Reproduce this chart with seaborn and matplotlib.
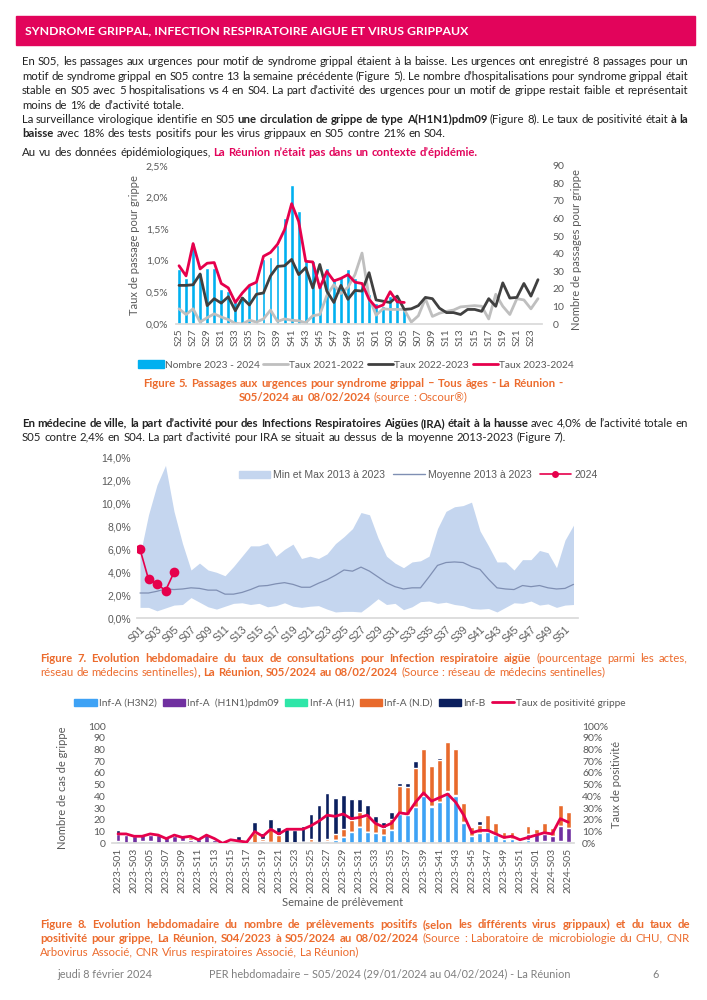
import numpy as np
import matplotlib
matplotlib.use("Agg")
import matplotlib.pyplot as plt
import seaborn as sns
from matplotlib.patches import Patch, Rectangle
from matplotlib.lines import Line2D

# --- Figure 5 : passages aux urgences (S25/2023 -> S24/2024) ---
semaines_f5 = ["S%02d" % w for w in list(range(25, 53)) + list(range(1, 25))]
nombre_2324 = [31, 26, 46, 29, 32, 32, 20, 19, 13, 16, 22, 24, 37, 38, 45, 60, 79,
               64, 36, 36, 22, 32, 26, 27, 31, 26, 22, 17, 12, 10, 16, 13, 8]
taux_2122 = [0.24, 0.15, 0.24, 0.03, 0.10, 0.16, 0.11, 0.07, 0.01, 0.0, 0.06, 0.03,
             0.08, 0.22, 0.04, 0.08, 0.06, 0.05, 0.02, 0.13, 0.15,
             0.45, 0.62, 0.48, 0.58, 0.78, 1.12, 0.42,
             0.14, 0.24, 0.23, 0.23, 0.23, 0.03, 0.13, 0.40, 0.12, 0.17, 0.20, 0.22,
             0.27, 0.28, 0.29, 0.28, 0.08, 0.47, 0.28, 0.15, 0.40, 0.38, 0.24, 0.40]
taux_2223 = [0.61, 0.61, 0.62, 0.79, 0.29, 0.40, 0.33, 0.43, 0.21, 0.41, 0.30, 0.47,
             0.49, 0.76, 0.91, 0.92, 1.02, 0.78, 0.89, 0.57, 0.94, 0.52, 0.34, 0.61,
             0.39, 0.53, 0.52, 0.81,
             0.38, 0.36, 0.34, 0.44, 0.23, 0.24, 0.29, 0.42, 0.40, 0.25, 0.18, 0.18,
             0.15, 0.23, 0.23, 0.20, 0.40, 0.28, 0.65, 0.41, 0.42, 0.64, 0.44, 0.70]
taux_2324 = [0.92, 0.76, 1.27, 0.87, 0.96, 0.97, 0.64, 0.57, 0.34, 0.49, 0.61, 0.66,
             1.07, 1.13, 1.26, 1.49, 1.90, 1.62, 0.99, 0.98, 0.57, 0.83, 0.68, 0.72,
             0.78, 0.66, 0.64, 0.39, 0.26, 0.30, 0.51, 0.35, 0.34]
ticks_f5 = ["0,0%", "0,5%", "1,0%", "1,5%", "2,0%", "2,5%"]

# --- Figure 7 : IRA medecins sentinelles ---
semaines_f7 = ["S%02d" % w for w in range(1, 53)]
ira_max = [5.5, 9.0, 11.6, 13.3, 9.3, 6.5, 4.2, 4.8, 4.2, 4.0, 3.7, 4.5, 5.4, 6.3,
           6.3, 6.55, 5.4, 6.0, 6.45, 5.2, 5.4, 5.2, 5.6, 6.5, 7.1, 7.8, 9.2, 9.0,
           7.0, 5.4, 4.8, 4.4, 4.9, 5.0, 5.4, 7.8, 9.3, 9.7, 9.8, 10.1, 7.6, 6.3,
           4.9, 4.9, 4.2, 5.1, 5.1, 5.9, 5.7, 4.4, 6.8, 8.1]
ira_min = [0.95, 0.95, 0.65, 0.9, 1.15, 1.2, 1.8, 1.4, 1.0, 0.8, 1.05, 1.3, 1.35,
           1.2, 1.3, 1.0, 1.1, 1.35, 1.05, 0.95, 1.05, 1.1, 0.8, 0.55, 0.6, 0.6,
           0.55, 1.1, 1.7, 1.2, 1.3, 0.75, 1.0, 1.45, 1.5, 1.3, 1.4, 1.2, 1.1, 0.85,
           0.8, 0.85, 0.55, 0.95, 1.35, 1.3, 1.5, 1.15, 1.25, 0.95, 1.15, 1.2]
ira_moyenne = [2.2, 2.2, 2.35, 2.55, 2.5, 2.55, 2.65, 2.6, 2.45, 2.45, 2.1, 2.1,
               2.25, 2.5, 2.8, 2.85, 3.0, 3.1, 2.95, 2.7, 2.7, 3.05, 3.35, 3.75,
               4.2, 4.1, 4.45, 4.1, 3.6, 3.1, 2.75, 2.55, 2.65, 2.65, 3.6, 4.6,
               4.85, 4.9, 4.85, 4.5, 4.25, 3.4, 2.65, 2.55, 2.5, 2.85, 2.75, 2.85,
               2.65, 2.55, 2.6, 2.95]
ira_2024 = [6.0, 3.4, 3.0, 2.4, 4.0]
ticks_f7 = ["0,0%", "2,0%", "4,0%", "6,0%", "8,0%", "10,0%", "12,0%", "14,0%"]

# --- Figure 8 : prelevements positifs grippe ---
semaines_f8 = (["2023-S%02d" % w for w in range(1, 53)]
               + ["2024-S%02d" % w for w in range(1, 6)])
inf_h3n2 = [2, 0, 0, 2, 2, 0, 0, 1, 2, 1, 0, 0, 0, 0, 1, 0, 0, 0, 0, 0, 0, 0, 0, 1,
            1, 0, 2, 3, 5, 10, 14, 10, 9, 7, 11, 25, 24, 31, 40, 31, 35, 44, 40, 17,
            6, 9, 10, 7, 4, 4, 2, 3, 1, 2, 1, 2, 1]
inf_h1n1 = [6, 7, 6, 6, 5, 7, 5, 5, 4, 2, 4, 7, 3, 0, 0, 0, 0, 0, 2, 1, 0, 0, 0, 0,
            0, 0, 0, 0, 0, 0, 0, 0, 0, 0, 0, 0, 0, 0, 0, 1, 0, 0, 0, 1,
            0, 0, 0, 0, 0, 0, 1, 5, 7, 6, 5, 13, 12]
inf_h1 = [0] * 41 + [1, 1] + [0] * 14
inf_nd = [0, 1, 0, 0, 1, 1, 0, 1, 0, 2, 1, 0, 0, 0, 0, 2, 1, 9, 2, 11, 7, 0, 0, 0,
          3, 1, 2, 5, 7, 10, 13, 13, 8, 6, 10, 24, 24, 33, 40, 34, 36, 41, 39, 16,
          8, 7, 14, 10, 6, 6, 0, 7, 4, 9, 7, 18, 14]
inf_b = [3, 0, 0, 0, 0, 0, 0, 1, 0, 2, 0, 0, 0, 0, 0, 4, 2, 9, 5, 9, 7, 12, 11, 14,
         21, 32, 39, 31, 29, 18, 11, 10, 6, 5, 6, 2, 3, 6, 0, 1, 2, 0, 0, 0,
         0, 3, 0, 0, 0, 0, 0, 0, 0, 0, 0, 0, 0]
taux_positivite = [8, 8, 6, 6, 8, 7, 4, 7, 5, 6, 3, 7, 4, 0, 3, 2, 1, 10, 6, 12,
                   8, 12, 12, 12, 15, 19, 24, 23, 25, 21, 22, 24, 17, 14, 17, 26,
                   25, 35, 43, 36, 39, 42, 35, 24, 9, 11, 11, 8, 5, 6, 3, 5, 7, 9,
                   8, 21, 18]
noms_f8 = ["Inf-A (H3N2)", "Inf-A  (H1N1)pdm09", "Inf-A (H1)", "Inf-A (N.D)", "Inf-B"]

# colours
ROSE = "#E2045B"
ORANGE = "#EC6B2D"
TXT = "#222222"
GRIS = "#595959"
ROUGE = "#E6004C"
couleurs_f8 = ["#3EA2F5", "#7030A0", "#2EE6A8", "#E86A2C", "#0B1F5E"]

sns.set_theme(style="white")
plt.rcParams["font.family"] = ["Lato", "DejaVu Sans"]

W, H = 707, 1000
fig = plt.figure(figsize=(W / 100, H / 100), dpi=100)
rend = fig.canvas.get_renderer()


def fx(px):
    return px / W


def fy(py):
    return 1 - py / H


def axes_px(l, t, r, b):
    return fig.add_axes([l / W, 1 - b / H, (r - l) / W, (b - t) / H])


def ligne(y, runs, x0=0, x1=None, taille=8.2, centre=None):
    # runs: (texte, gras, couleur); words are spread to fill x0..x1 when x1 is given
    mots = [[]]
    for txt, gras, coul in runs:
        for k, part in enumerate(txt.split(" ")):
            if k:
                mots.append([])
            if part:
                mots[-1].append((part, gras, coul))
    mots = [m for m in mots if m]
    base = fy(y + 0.33 * taille * 100 / 72)
    objs = [[fig.text(0, base, p, fontsize=taille, color=c, ha="left", va="baseline",
                      fontweight="bold" if g else "normal") for p, g, c in m]
            for m in mots]

    def mesurer():
        return [[t.get_window_extent(rend).width for t in m] for m in objs]

    larg = mesurer()
    total = sum(sum(l) for l in larg)
    n = len(objs)
    if x1 is not None and total + 2.2 * (n - 1) > x1 - x0:
        f = (x1 - x0 - 2.2 * (n - 1)) / total
        for m in objs:
            for t in m:
                t.set_fontsize(taille * f)
        larg = mesurer()
        total = sum(sum(l) for l in larg)
    gap = (x1 - x0 - total) / (n - 1) if (x1 is not None and n > 1) else taille * 100 / 72 * 0.26
    if centre is not None:
        x0 = centre - (total + gap * (n - 1)) / 2
    x = x0
    for m, l in zip(objs, larg):
        for t, w in zip(m, l):
            t.set_x(fx(x))
            x += w
        x += gap


def habiller(ax):
    for s in ax.spines.values():
        s.set_visible(False)
    ax.set_xlabel("")
    ax.set_ylabel("")


# --- header and text ---
fig.add_artist(Rectangle((fx(16), fy(45)), (695 - 16) / W, 29 / H,
                         transform=fig.transFigure, color=ROSE, zorder=0))
fig.text(fx(25), fy(31), "SYNDROME GRIPPAL, INFECTION RESPIRATOIRE AIGUE ET VIRUS GRIPPAUX",
         color="white", fontweight="bold", fontsize=8.8, va="center")

ligne(61, [("En S05, les passages aux urgences pour motif de syndrome grippal étaient à la baisse. "
            "Les urgences ont enregistré 8 passages pour un", False, TXT)], 22, 688)
ligne(76, [("motif de syndrome grippal en S05 contre 13 la semaine précédente (Figure 5). "
            "Le nombre d’hospitalisations pour syndrome grippal était", False, TXT)], 22, 688)
ligne(90, [("stable en S05 avec 5 hospitalisations vs 4 en S04. La part d’activité des urgences "
            "pour un motif de grippe restait faible et représentait", False, TXT)], 22, 688)
ligne(105, [("moins de 1% de d’activité totale.", False, TXT)], 22)
ligne(119, [("La surveillance virologique identifie en S05 ", False, TXT),
            ("une circulation de grippe de type A(H1N1)pdm09", True, TXT),
            (" (Figure 8). Le taux de positivité était ", False, TXT),
            ("à la", True, TXT)], 22, 688)
ligne(133, [("baisse", True, TXT),
            (" avec 18% des tests positifs pour les virus grippaux en S05 contre 21% en S04.", False, TXT)], 22)
ligne(152, [("Au vu des données épidémiologiques, ", False, TXT),
            ("La Réunion n’était pas dans un contexte d’épidémie.", True, ROSE)], 22)

# --- Figure 5 ---
ax5 = axes_px(175.5, 165.7, 541.5, 324)
ax5b = ax5.twinx()
sns.barplot(x=np.arange(len(nombre_2324)), y=nombre_2324, native_scale=True,
            color="#00B0F0", saturation=1, width=0.55, errorbar=None, ax=ax5b)
x5 = np.arange(len(semaines_f5))
sns.lineplot(x=x5, y=taux_2122, color="#BFBFBF", linewidth=2, ax=ax5)
sns.lineplot(x=x5, y=taux_2223, color="#404040", linewidth=2, ax=ax5)
sns.lineplot(x=x5[:len(taux_2324)], y=taux_2324, color=ROUGE, linewidth=2, ax=ax5)
ax5.set_zorder(ax5b.get_zorder() + 1)
ax5.patch.set_visible(False)
ax5.set_xlim(-0.5, 51.5)
ax5.set_ylim(0, 2.5)
ax5b.set_ylim(0, 90)
habiller(ax5)
habiller(ax5b)
ax5.spines["bottom"].set_visible(True)
ax5.spines["bottom"].set_color("#D9D9D9")
ax5.set_yticks([0, 0.5, 1, 1.5, 2, 2.5], ticks_f5)
ax5b.set_yticks(range(0, 91, 10))
ax5.set_xticks(x5[::2], semaines_f5[::2], rotation=90)
ax5.tick_params(axis="both", length=0, labelsize=7.5, labelcolor=GRIS)
ax5.tick_params(axis="y", pad=5)
ax5.tick_params(axis="x", pad=3)
ax5b.tick_params(axis="y", length=0, labelsize=7.5, labelcolor=GRIS, pad=8)
fig.text(fx(135), fy(245), "Taux de passage pour grippe", rotation=90,
         ha="center", va="center", fontsize=8, color=GRIS)
fig.text(fx(577), fy(250), "Nombre de passages pour grippe", rotation=90,
         ha="center", va="center", fontsize=8, color=GRIS)
h5 = [Patch(color="#00B0F0"), Line2D([], [], color="#BFBFBF", lw=2),
      Line2D([], [], color="#404040", lw=2), Line2D([], [], color=ROUGE, lw=2)]
fig.legend(h5, ["Nombre 2023 - 2024", "Taux 2021-2022", "Taux 2022-2023", "Taux 2023-2024"],
           loc="center", bbox_to_anchor=(fx(356), fy(365)), ncol=4, frameon=False,
           fontsize=7.3, labelcolor=GRIS, handlelength=2.5, handletextpad=0.1,
           columnspacing=0.35)
ligne(383, [("Figure 5. Passages aux urgences pour syndrome grippal – Tous âges - La Réunion -",
             True, ORANGE)], centre=353)
ligne(397, [("S05/2024 au 08/02/2024", True, ORANGE), (" (source : Oscour®)", False, ORANGE)],
      centre=353)

# --- text between ---
ligne(423, [("En médecine de ville, la part d’activité pour des Infections Respiratoires Aigües (IRA) "
             "était à la hausse", True, TXT),
            (" avec 4,0% de l’activité totale en", False, TXT)], 22, 688)
ligne(437, [("S05 contre 2,4% en S04. La part d’activité pour IRA se situait au dessus de la "
             "moyenne 2013-2023 (Figure 7).", False, TXT)], 22)

# --- Figure 7 ---
ax7 = axes_px(136.6, 457.3, 577.75, 618.3)
x7 = np.arange(len(semaines_f7))
ax7.fill_between(x7, ira_min, ira_max, color="#C5D6EF", linewidth=0)
sns.lineplot(x=x7, y=ira_moyenne, color="#7F8FB3", linewidth=0.9, ax=ax7)
sns.lineplot(x=x7[:len(ira_2024)], y=ira_2024, color=ROUGE, linewidth=1.2, marker="o",
             markersize=7, markeredgewidth=0, ax=ax7)
ax7.set_xlim(-0.4, 51.5)
ax7.set_ylim(0, 14)
habiller(ax7)
ax7.spines["bottom"].set_visible(True)
ax7.spines["bottom"].set_color("#D9D9D9")
ax7.set_yticks(range(0, 15, 2), ticks_f7, fontfamily="Liberation Sans")
ax7.set_xticks(x7[::2], semaines_f7[::2], rotation=45, ha="right",
               rotation_mode="anchor", fontfamily="Liberation Sans")
ax7.tick_params(axis="both", length=0, labelsize=7.5, labelcolor=GRIS)
ax7.tick_params(axis="y", pad=4)
ax7.tick_params(axis="x", pad=4)
h7 = [Patch(color="#C5D6EF"), Line2D([], [], color="#7F8FB3", lw=1),
      Line2D([], [], color=ROUGE, lw=1.2, marker="o", markersize=5, markeredgewidth=0)]
fig.legend(h7, ["Min et Max 2013 à 2023", "Moyenne 2013 à 2023", "2024"], loc="center",
           bbox_to_anchor=(fx(418), fy(475)), ncol=3, frameon=False, labelcolor=GRIS,
           prop={"family": "Liberation Sans", "size": 7.5}, handlelength=3,
           handletextpad=0.3, columnspacing=0.8)
ligne(658, [("Figure 7. Evolution hebdomadaire du taux de consultations pour Infection respiratoire aigüe",
             True, ORANGE), (" (pourcentage parmi les actes,", False, ORANGE)], 40, 688)
ligne(672, [("réseau de médecins sentinelles)", False, ORANGE),
            (", La Réunion, S05/2024 au 08/02/2024", True, ORANGE),
            (" (Source : réseau de médecins sentinelles)", False, ORANGE)], 40)

# --- Figure 8 ---
ax8 = axes_px(112.4, 726, 573.9, 843.3)
x8 = np.arange(len(semaines_f8))
cumul = np.cumsum(np.array([inf_h3n2, inf_h1n1, inf_h1, inf_nd, inf_b]), axis=0)
for k in range(4, -1, -1):
    sns.barplot(x=x8, y=cumul[k], native_scale=True, color=couleurs_f8[k], saturation=1,
                width=0.6, errorbar=None, ax=ax8)
ax8b = ax8.twinx()
sns.lineplot(x=x8, y=taux_positivite, color=ROUGE, linewidth=2, ax=ax8b)
ax8.set_xlim(-0.7, 56.7)
ax8.set_ylim(0, 100)
ax8b.set_ylim(0, 100)
habiller(ax8)
habiller(ax8b)
ax8.spines["bottom"].set_visible(True)
ax8.spines["bottom"].set_color("#D9D9D9")
ax8.set_yticks(range(0, 101, 10))
ax8b.set_yticks(range(0, 101, 10), ["%d%%" % v for v in range(0, 101, 10)])
ax8.set_xticks(x8[::2], semaines_f8[::2], rotation=90)
ax8.tick_params(axis="both", length=0, labelsize=7.5, labelcolor=GRIS)
ax8.tick_params(axis="y", pad=5)
ax8.tick_params(axis="x", pad=3)
ax8b.tick_params(axis="y", length=0, labelsize=7.5, labelcolor=GRIS, pad=6)
fig.text(fx(63), fy(788), "Nombre de cas de grippe", rotation=90, ha="center",
         va="center", fontsize=8, color=GRIS)
fig.text(fx(617), fy(785), "Taux de positivité", rotation=90, ha="center",
         va="center", fontsize=8, color=GRIS)
fig.text(fx(343), fy(902), "Semaine de prélèvement", ha="center", va="center",
         fontsize=8, color=GRIS)
h8 = [Patch(color=c) for c in couleurs_f8] + [Line2D([], [], color=ROUGE, lw=2)]
fig.legend(h8, noms_f8 + ["Taux de positivité grippe"], loc="center",
           bbox_to_anchor=(fx(350), fy(703)), ncol=6, frameon=False, fontsize=7.3,
           labelcolor=GRIS, handlelength=2.2, handletextpad=0.2, columnspacing=0.6)
ligne(924, [("Figure 8. Evolution hebdomadaire du nombre de prélèvements positifs (selon les "
             "différents virus grippaux) et du taux de", True, ORANGE)], 40, 690)
ligne(938, [("positivité pour grippe, La Réunion, S04/2023 à S05/2024 au 08/02/2024", True, ORANGE),
            (" (Source : Laboratoire de microbiologie du CHU, CNR", False, ORANGE)], 40, 690)
ligne(952, [("Arbovirus Associé, CNR Virus respiratoires Associé, La Réunion)", False, ORANGE)], 40)

# --- footer ---
fig.text(fx(57), fy(974), "jeudi 8 février 2024", fontsize=7.8, color="#7F7F7F", va="center")
fig.text(fx(390), fy(974), "PER hebdomadaire – S05/2024 (29/01/2024 au 04/02/2024) - La Réunion",
         fontsize=7.8, color="#7F7F7F", va="center", ha="center")
fig.text(fx(652), fy(974), "6", fontsize=7.8, color="#7F7F7F", va="center")

fig.savefig("out.png", dpi=100)
